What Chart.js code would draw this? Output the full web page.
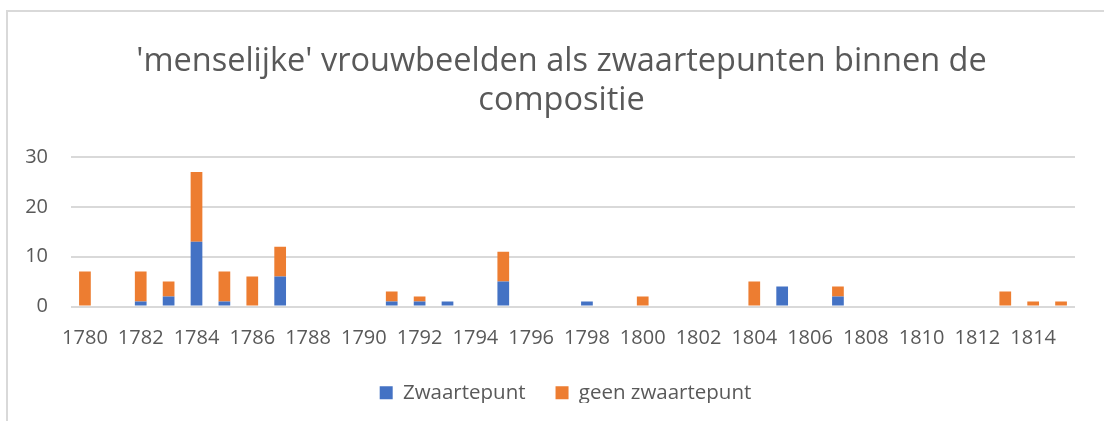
<!DOCTYPE html>
<html>
<head>
<meta charset="utf-8">
<script src="https://cdn.jsdelivr.net/npm/chart.js@4"></script>
<style>
  body { margin: 0; background: #fff; overflow: hidden; }
  #frame { position: absolute; left: 6px; top: 10px; width: 1200px; height: 500px; border: 2px solid #d9d9d9; }
  #wrap { position: absolute; left: 0; top: 0; width: 1104px; height: 421px; }
</style>
</head>
<body>
<div id="frame"></div>
<div id="wrap"><canvas id="yearChart"></canvas></div>
<script>
const years = [];
for (let y = 1780; y <= 1815; y++) years.push(String(y));

const zwaartepunt = [
  0, 0, 1, 2, 13, 1, 0, 6, 0, 0, 0, 1, 1, 1, 0, 5, 0, 0, 1, 0, 0, 0, 0, 0, 0,
  4, 0, 2, 0, 0, 0, 0, 0, 0, 0, 0,
];
const geenZwaartepunt = [
  7, 0, 6, 3, 14, 6, 6, 6, 0, 0, 0, 2, 1, 0, 0, 6, 0, 0, 0, 0, 2, 0, 0, 0, 5,
  0, 0, 2, 0, 0, 0, 0, 0, 3, 1, 1,
];

const textColor = "#595959";
const fontFamily = "'Open Sans', 'Liberation Sans', sans-serif";

// the excel chart is wider than the screenshot, so title and legend sit right of centre
function shiftBox(box, dx, dy) {
  const origDraw = box.draw;
  box.draw = function () {
    this.ctx.save();
    this.ctx.translate(dx, dy);
    origDraw.apply(this, arguments);
    this.ctx.restore();
  };
}

const nudgeBoxes = {
  id: "nudgeBoxes",
  beforeInit(chart) {
    const legend = chart.legend;
    const origFit = legend.fit;
    legend.fit = function () {
      origFit.apply(this, arguments);
      this.height -= 10;
    };
    shiftBox(legend, 28, -10);
    shiftBox(chart.titleBlock, 24, 0);
  },
};

const ctx = document.getElementById("yearChart").getContext("2d");

const yearChart = new Chart(ctx, {
  type: "bar",
  data: {
    labels: years,
    datasets: [
      {
        label: "Zwaartepunt",
        data: zwaartepunt,
        backgroundColor: "#4472c4",
        categoryPercentage: 1,
        barPercentage: 0.42,
      },
      {
        label: "geen zwaartepunt",
        data: geenZwaartepunt,
        backgroundColor: "#ed7d31",
        categoryPercentage: 1,
        barPercentage: 0.42,
      },
    ],
  },
  plugins: [nudgeBoxes],
  options: {
    responsive: true,
    maintainAspectRatio: false,
    animation: false,
    layout: {
      padding: { left: 0, right: 29, top: 0, bottom: 8 },
    },
    plugins: {
      title: {
        display: true,
        text: [
          "'menselijke' vrouwbeelden als zwaartepunten binnen de",
          "compositie",
        ],
        color: textColor,
        font: { family: fontFamily, size: 32.5, weight: "normal", lineHeight: 1.2 },
        padding: { top: 42, bottom: 37 },
      },
      legend: {
        position: "bottom",
        labels: {
          color: textColor,
          font: { family: fontFamily, size: 20.5 },
          boxWidth: 13,
          boxHeight: 13,
          padding: 30,
        },
      },
      tooltip: { enabled: false },
    },
    scales: {
      x: {
        stacked: true,
        grid: { display: false },
        border: { display: false },
        ticks: {
          color: textColor,
          font: { family: fontFamily, size: 20 },
          autoSkip: false,
          maxRotation: 0,
          padding: 12,
          callback: function (value, index) {
            return index % 2 === 0 ? this.getLabelForValue(value) : "";
          },
        },
      },
      y: {
        stacked: true,
        min: 0,
        max: 30,
        afterFit: (scale) => { scale.width = 71; },
        grid: { color: "#d9d9d9", lineWidth: 2, drawTicks: false },
        border: { display: false },
        ticks: {
          stepSize: 10,
          color: textColor,
          font: { family: fontFamily, size: 20 },
          padding: 23,
        },
      },
    },
  },
});
</script>
</body>
</html>
